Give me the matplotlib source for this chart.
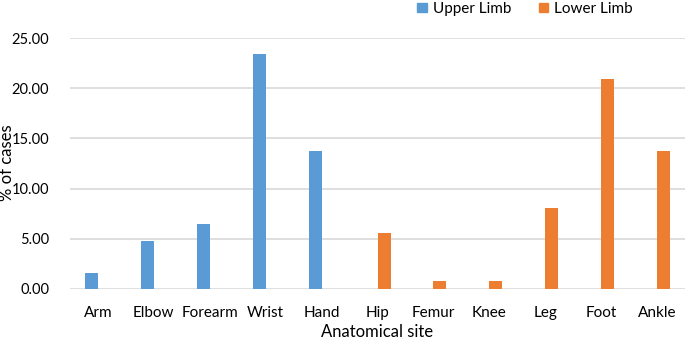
import numpy as np
import matplotlib.pyplot as plt
from matplotlib.patches import Patch

plt.rcParams["font.family"] = ["Lato", "DejaVu Sans"]

sites = ["Arm", "Elbow", "Forearm", "Wrist", "Hand", "Hip",
         "Femur", "Knee", "Leg", "Foot", "Ankle"]
upper_limb = [1.6, 4.8, 6.45, 23.4, 13.7, 0, 0, 0, 0, 0, 0]
lower_limb = [0, 0, 0, 0, 0, 5.6, 0.8, 0.8, 8.05, 20.9, 13.7]
yticks = [0, 5, 10, 15, 20, 25]

BLUE = "#5B9BD5"
ORANGE = "#ED7D31"

W, H = 685, 339
fig = plt.figure(figsize=(W / 100, H / 100), dpi=100)
ax = fig.add_axes([70 / W, 1 - 289 / H, 615 / W, 251 / H])

x = np.arange(len(sites))
w = 0.233
ax.bar(x - w / 2, upper_limb, width=w, color=BLUE, zorder=3)
ax.bar(x + w / 2, lower_limb, width=w, color=ORANGE, zorder=3)

ax.set_xlim(-0.5, len(sites) - 0.5)
ax.set_ylim(0, 25)
ax.set_yticks(yticks)
ax.set_yticklabels([f"{v:.2f}" for v in yticks])
ax.set_xticks(x)
ax.set_xticklabels(sites)
ax.grid(axis="y", color="#D9D9D9", linewidth=1.2, zorder=0)
for s in ax.spines.values():
    s.set_visible(False)
ax.tick_params(length=0, colors="#000000")
ax.tick_params(axis="x", pad=12, labelsize=11)
ax.tick_params(axis="y", pad=15, labelsize=10.5)

# axis titles placed directly (layout is tight)
fig.text(377 / W, 1 - 332 / H, "Anatomical site", fontsize=12,
         ha="center", va="center")
fig.text(7 / W, 1 - 163 / H, "% of cases", fontsize=12,
         ha="center", va="center", rotation=90)

handles = [Patch(color=BLUE, label="Upper Limb"),
           Patch(color=ORANGE, label="Lower Limb")]
fig.legend(handles=handles, loc="upper center", bbox_to_anchor=(525 / W, 1.035),
           ncol=2, frameon=False, fontsize=11, handlelength=0.6, handleheight=0.6,
           handletextpad=0.4, columnspacing=1.8)

fig.savefig("out.png", dpi=100)
